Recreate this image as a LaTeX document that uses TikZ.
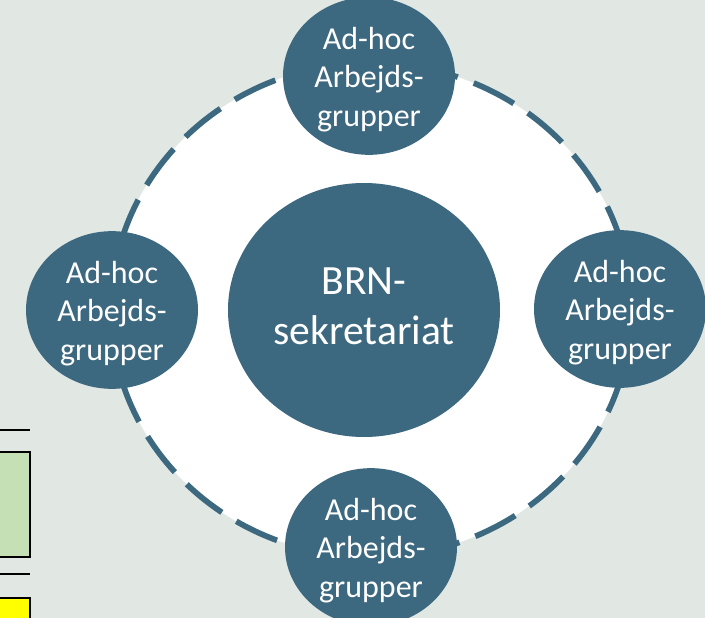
\documentclass[tikz,border=0pt]{standalone}
\usepackage{fontspec}
\setmainfont{Carlito}
\usetikzlibrary{shapes.geometric}
\definecolor{bgcol}{HTML}{E1E7E3}
\definecolor{nodeblue}{HTML}{3C6880}
\definecolor{boxgreen}{HTML}{C5E0B4}
\definecolor{boxyellow}{HTML}{FFFF00}
\newcommand{\grptext}{\rule{0pt}{29pt}Ad-hoc\\Arbejds-\\grupper}
\begin{document}
\begin{tikzpicture}[x=1pt,y=-1pt,
  grp/.style={ellipse, fill=nodeblue, text=white, minimum width=172pt, minimum height=136pt, inner sep=0pt, align=center, font=\fontsize{32}{38.5}\selectfont},
  hub/.style={ellipse, fill=nodeblue, text=white, minimum width=272pt, minimum height=254pt, inner sep=0pt, align=center, font=\fontsize{41.6}{50}\selectfont},
  ring/.style={draw=nodeblue, line width=5.7pt, dash pattern=on 45pt off 17pt, fill=white},
  sideline/.style={draw=black, line width=2pt},
  sidebox/.style={draw=black, line width=2.5pt}]
\fill[bgcol] (0,0) rectangle (705,618);
\useasboundingbox (0,0) rectangle (705,618);
\path[ring] (371,310) ellipse [x radius=260pt, y radius=247pt];
\node[hub] (hub) at (364,310) {BRN-\\sekretariat\rule[-8pt]{0pt}{8pt}};
\node[grp] (top) at (369,76) {\grptext};
\node[grp] (left) at (112,310) {\grptext};
\node[grp] (right) at (620,309) {\grptext};
\node[grp] (bottom) at (371,547) {\grptext};
\draw[sideline] (-5,430) -- (30,430);
\draw[sidebox, fill=boxgreen] (-5,452) rectangle (30,557);
\draw[sideline] (-5,574) -- (30,574);
\draw[sidebox, fill=boxyellow] (-5,598) rectangle (30,630);
\end{tikzpicture}
\end{document}
